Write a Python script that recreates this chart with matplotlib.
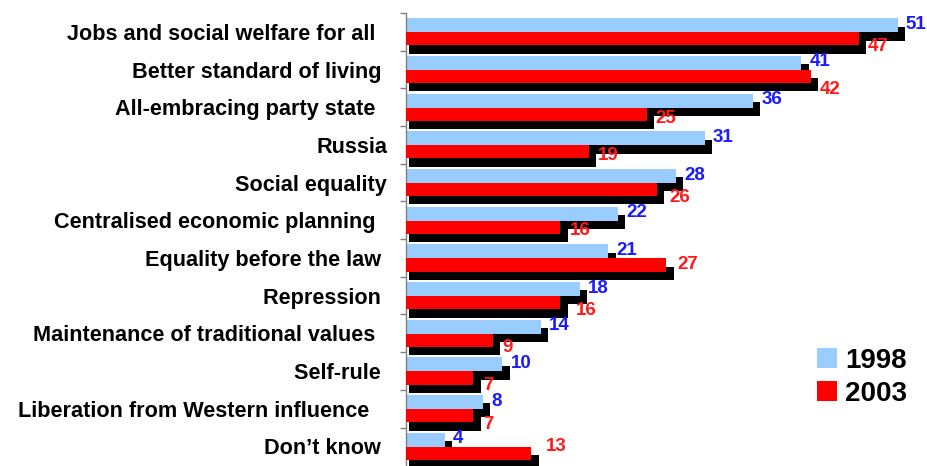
import numpy as np
import matplotlib
matplotlib.use("Agg")
from matplotlib import pyplot as plt
from matplotlib.patches import Patch

plt.rcParams['font.family'] = ['Liberation Sans', 'DejaVu Sans']
plt.rcParams['font.weight'] = 'bold'

# categories top to bottom, trailing spaces keep the ragged right edge
categories = ["Jobs and social welfare for all  ", "Better standard of living ",
              "All-embracing party state  ", "Russia",
              "Social equality", "Centralised economic planning  ",
              "Equality before the law ", "Repression ",
              "Maintenance of traditional values  ", "Self-rule ",
              "Liberation from Western influence   ", "Don\u2019t know "]
vals_1998 = [51, 41, 36, 31, 28, 22, 21, 18, 14, 10, 8, 4]
vals_2003 = [47, 42, 25, 19, 26, 16, 27, 16, 9, 7, 7, 13]
years = ["1998", "2003"]

# where the 2003 value labels sit, relative to bar end / category centre
red_dx = [0.95, 0.9, 0.9, 0.95, 1.35, 1.0, 1.2, 1.6, 1.0, 1.05, 1.05, 1.55]
red_dy = [0.40, 0.54, 0.29, 0.27, 0.40, 0.27, 0.18, 0.40, 0.37, 0.39, 0.43, 0.01]

c_1998 = "#99CCFF"
c_2003 = "#FF0000"
lab_1998 = "#1A1AFF"
lab_2003 = "#FF1A1A"

W, H = 928, 466
fig = plt.figure(figsize=(W / 100, H / 100), dpi=100)
ax = fig.add_axes([406 / W, 0, 1 - 406 / W, 1 - 13 / H])

y = np.arange(len(categories))
v1 = np.array(vals_1998)
v2 = np.array(vals_2003)

h1, h2 = 0.37, 0.35
y1 = y - 0.175
y2 = y + 0.185
dy, dx0, dx1 = 0.22, 0.35, 0.76

# drop shadows first, bars on top
ax.barh(y1 + dy, v1 + dx1 - dx0, left=dx0, height=h1, color="black", zorder=1)
ax.barh(y2 + dy, v2 + dx1 - dx0, left=dx0, height=h2, color="black", zorder=1)
ax.barh(y1, v1, height=h1, color=c_1998, zorder=2)
ax.barh(y2, v2, height=h2, color=c_2003, zorder=3)

for i in range(len(categories)):
    ax.text(v1[i] + 0.85, i - 0.2, str(v1[i]), color=lab_1998, fontsize=13.5,
            fontweight="bold", ha="left", va="center", zorder=5)
    ax.text(v2[i] + red_dx[i], i + red_dy[i], str(v2[i]), color=lab_2003,
            fontsize=13.5, fontweight="bold", ha="left", va="center", zorder=5)

ax.set_xlim(0, (W - 406) / 9.64)
ax.set_ylim(11.52, -0.5)

# boundary ticks on the axis, names on minor ticks at the centres
ax.set_yticks(np.arange(-0.5, 11, 1.0))
ax.set_yticklabels([])
ax.set_yticks(y, minor=True)
ax.set_yticklabels(categories, minor=True, fontsize=15.6, fontweight="bold")
ax.tick_params(axis="y", which="major", direction="out", length=4.5,
               width=1, color="#808080")
ax.tick_params(axis="y", which="minor", length=0, pad=13.5)
ax.set_xticks([])
for s in ["top", "right", "bottom"]:
    ax.spines[s].set_visible(False)
ax.spines["left"].set_color("#808080")
ax.spines["left"].set_linewidth(1)

handles = [Patch(facecolor=c_1998, edgecolor="none"),
           Patch(facecolor=c_2003, edgecolor="none")]
fig.legend(handles, years, loc="upper left",
           bbox_to_anchor=(817 / W, 1 - 348 / H), frameon=False,
           prop={"size": 20, "weight": "bold"}, handlelength=0.72,
           handleheight=0.72, handletextpad=0.3, labelspacing=0.25,
           borderpad=0, borderaxespad=0)

fig.savefig("out.png", dpi=100)
